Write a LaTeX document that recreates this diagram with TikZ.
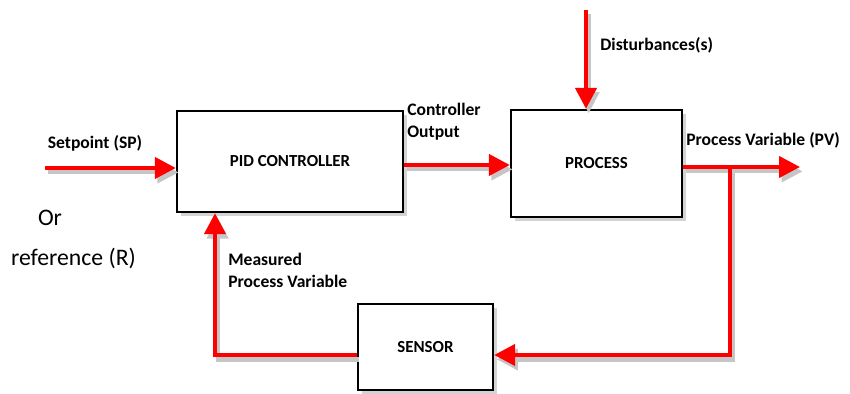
\documentclass[tikz,border=0pt]{standalone}
\usepackage{fontspec}
\setmainfont{Carlito}
\usepackage{xcolor}
\usetikzlibrary{shapes,arrows.meta,positioning,shadows}

\begin{document}
\begin{tikzpicture}[every node/.style={font=\fontsize{10}{12.5}\selectfont\bfseries}]

    % Styles for blocks and signal lines
    \tikzset{
        blockbox/.style={draw=black, fill=white, line width=1.3pt, inner sep=0pt, align=center,
            font=\fontsize{9.6}{12}\selectfont\bfseries,
            drop shadow={opacity=0.35, shadow xshift=2pt, shadow yshift=-2pt}},
        signal/.style={red, line width=2.4pt, line join=miter,
            preaction={draw=gray!45, line width=2.4pt, transform canvas={shift={(1.5pt,-2.5pt)}}}},
        arrow/.style={signal, -{Triangle[length=0.42cm,width=0.42cm]}},
        lbl/.style={align=left, inner sep=0pt},
        plain/.style={lbl, font=\fontsize{13.5}{16}\selectfont}
    }

    \useasboundingbox (0,0) rectangle (17,7.88);

    % Blocks
    \node[blockbox, minimum width=4.52cm, minimum height=2.02cm] (pid) at (5.8,4.65) {PID CONTROLLER};
    \node[blockbox, minimum width=3.42cm, minimum height=2.14cm] (process) at (11.93,4.61) {PROCESS};
    \node[blockbox, minimum width=2.7cm, minimum height=1.72cm] (sensor) at (8.51,0.94) {SENSOR};

    % Free ends and corners
    \coordinate (sp) at (0.9,4.52);
    \coordinate (dist) at (11.72,7.68);
    \coordinate (pv) at (16.0,4.54);
    \coordinate (branch) at (14.6,4.54);
    \coordinate (fbin) at (8.51,0.78);
    \coordinate (fbout) at (4.3,0.78);

    % Signal lines
    \draw[arrow] (sp) -- (pid.west |- sp);
    \draw[arrow] (pid.east |- 0,4.58) -- (process.west |- 0,4.58);
    \draw[arrow] (dist) -- (process.north -| dist);
    \draw[arrow] (process.east |- pv) -- (pv);
    \draw[arrow] (branch) -- (branch |- fbin) -- (sensor.east |- fbin);
    \draw[arrow] (sensor.west |- fbin) -- (fbout) -- (pid.south -| fbout);

    % Labels
    \node[lbl] (splbl) at (1.9,5.02) {Setpoint (SP)};
    \node[plain] (orlbl) at (1.0,3.52) {Or};
    \node[plain] (reflbl) at (1.47,2.72) {reference (R)};
    \node[lbl, anchor=north west] (colbl) at (8.14,5.82) {Controller\\Output};
    \node[lbl, anchor=west] (distlbl) at (12.0,6.98) {Disturbances(s)};
    \node[lbl, anchor=west] (pvlbl) at (13.72,5.08) {Process Variable (PV)};
    \node[lbl, anchor=north west] (mpvlbl) at (4.56,2.82) {Measured\\Process Variable};

\end{tikzpicture}
\end{document}
